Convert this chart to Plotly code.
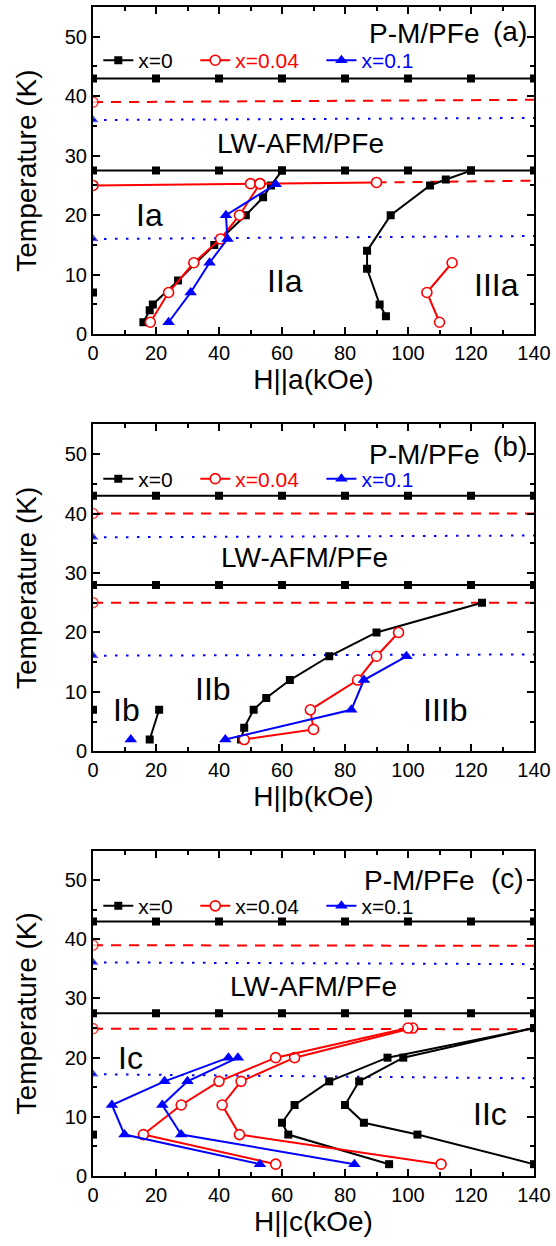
import plotly.graph_objects as go

# ---------------- data ----------------
H_grid = [0, 20, 40, 60, 80, 100, 120, 140]
H_ends = [0, 140]

# panel (a)  H || a
a_k0_top_T = [43, 43, 43, 43, 43, 43, 43, 43]
a_k004_top_T = [39.0, 39.4]
a_k01_top_T = [36.0, 36.35]
a_k0_tn_T = [27.5, 27.5, 27.5, 27.5, 27.5, 27.5, 27.5, 27.5]
a_k004_tn_H = [0, 50, 53, 90]
a_k004_tn_T = [25.0, 25.3, 25.3, 25.5]
a_k004_tnext_H = [90, 140]
a_k004_tnext_T = [25.5, 25.8]
a_k01_tn_T = [16.0, 16.5]
a_k0_b1_H = [16, 18, 19, 27, 38.5, 48.5, 54, 56.5, 60]
a_k0_b1_T = [2, 4, 5, 9, 15, 20, 23, 25, 27.5]
a_k004_b1_H = [18.2, 24, 32, 40.5, 46.5, 53]
a_k004_b1_T = [2, 7, 12, 16, 20, 25.3]
a_k01_b1_H = [24, 31, 37, 42.7, 42.2, 58]
a_k01_b1_T = [2, 7, 12, 16, 20, 25.2]
a_k0_b2_H = [93, 91, 87, 87, 94.5, 107, 112, 120]
a_k0_b2_T = [3, 5, 11, 14, 20, 25, 26, 27.5]
a_k004_b2_H = [110, 106, 114]
a_k004_b2_T = [2, 7, 12]
a_k0_pt_H = [0]
a_k0_pt_T = [7]

# panel (b)  H || b
b_k0_top_T = [43, 43, 43, 43, 43, 43, 43, 43]
b_k004_top_T = [40.0, 40.0]
b_k01_top_T = [36.0, 36.3]
b_k0_tn_T = [28, 28, 28, 28, 28, 28, 28, 28]
b_k004_tn_T = [25.0, 25.0]
b_k01_tn_T = [16.1, 16.3]
b_k0_pt_H = [0]
b_k0_pt_T = [7]
b_k0_b1_H = [18, 21]
b_k0_b1_T = [2, 7]
b_k01_pt_H = [12]
b_k01_pt_T = [2]
b_k0_b2_H = [47, 48, 51, 55, 62.5, 75, 90, 123.5]
b_k0_b2_T = [2, 4, 7, 9, 12, 16, 20, 25]
b_k004_b2_H = [48, 70, 69, 84, 90, 97]
b_k004_b2_T = [2, 3.7, 7, 12, 16, 20]
b_k01_b2_H = [42, 82, 86, 99.5]
b_k01_b2_T = [2, 7, 12, 16]

# panel (c)  H || c
c_k0_top_T = [43, 43, 43, 43, 43, 43, 43, 43]
c_k004_top_T = [39.0, 38.9]
c_k01_top_T = [36.1, 35.8]
c_k0_tn_T = [27.5, 27.5, 27.5, 27.5, 27.5, 27.5, 27.5, 27.5]
c_k004_tn_T = [24.9, 24.8]
c_k01_tn_T = [17.2, 16.5]
c_k0_pt_H = [0]
c_k0_pt_T = [7]
c_k0_out_H = [140, 103, 86, 80, 84.5, 98.5, 140]
c_k0_out_T = [2, 7, 9, 12, 16, 20, 25]
c_k0_in_H = [94, 62, 60, 64, 75, 93.5, 140]
c_k0_in_T = [2, 7, 9, 12, 16, 20, 25]
c_k004_out_H = [110.5, 46.5, 41, 47, 64, 101.5]
c_k004_out_T = [2, 7, 12, 16, 20, 25]
c_k004_in_H = [58, 16, 28, 40, 58, 100]
c_k004_in_T = [2, 7, 12, 16, 20, 25]
c_k01_out_H = [83, 28, 22, 30, 46]
c_k01_out_T = [2, 7, 12, 16, 20]
c_k01_in_H = [53, 10, 6, 22.7, 43]
c_k01_in_T = [2, 7, 12, 16, 20]

series_names = ["x=0", "x=0.04", "x=0.1"]
x_titles = ["H||a(kOe)", "H||b(kOe)", "H||c(kOe)"]
panel_tags = ["(a)", "(b)", "(c)"]

# ---------------- styles ----------------
BLACK, RED, BLUE = "#000000", "#FF0000", "#0000FF"
FONT = "Liberation Sans, Arial, sans-serif"
LW = 2
SQ = dict(symbol="square", size=8, color=BLACK)
CI = dict(symbol="circle", size=10, color="white", line=dict(color=RED, width=1.6))
TR = dict(symbol="triangle-up", size=11, color=BLUE)
PAD = "&nbsp;&nbsp;&nbsp;"

fig = go.Figure()


def add(ax, xs, ys, color, marker, dash="solid", mode="lines+markers", name=None, legend=None):
    xa = "x" if ax == 1 else f"x{ax}"
    ya = "y" if ax == 1 else f"y{ax}"
    kw = dict(x=xs, y=ys, xaxis=xa, yaxis=ya, mode=mode,
              line=dict(color=color, width=LW, dash=dash),
              marker=marker, showlegend=name is not None, hoverinfo="skip")
    if name is not None:
        kw["name"] = name
        kw["legend"] = legend
    fig.add_trace(go.Scatter(**kw))


def edge_marker(m):
    d = dict(m)
    d["size"] = [m["size"], 0]
    return d


def cname(i, color):
    return f"<span style='color:{color}'>{series_names[i]}</span>" + (PAD if i < 2 else "")


DASH = "10px,8px"
DOT = "2.5px,8.5px"

# ----- panel (a)
add(1, H_grid, a_k0_top_T, BLACK, SQ)
add(1, H_ends, a_k004_top_T, RED, edge_marker(CI), DASH)
add(1, H_ends, a_k01_top_T, BLUE, edge_marker(TR), DOT)
add(1, H_grid, a_k0_tn_T, BLACK, SQ)
add(1, H_ends, a_k01_tn_T, BLUE, edge_marker(TR), DOT)
add(1, a_k004_tnext_H, a_k004_tnext_T, RED, dict(size=0), DASH, mode="lines")
add(1, a_k0_pt_H, a_k0_pt_T, BLACK, SQ, mode="markers")
add(1, a_k0_b1_H, a_k0_b1_T, BLACK, SQ, name=cname(0, BLACK), legend="legend")
add(1, a_k0_b2_H, a_k0_b2_T, BLACK, SQ)
add(1, a_k004_tn_H, a_k004_tn_T, RED, CI)
add(1, a_k004_b1_H, a_k004_b1_T, RED, CI, name=cname(1, RED), legend="legend")
add(1, a_k004_b2_H, a_k004_b2_T, RED, CI)
add(1, a_k01_b1_H, a_k01_b1_T, BLUE, TR, name=cname(2, BLUE), legend="legend")

# ----- panel (b)
add(2, H_grid, b_k0_top_T, BLACK, SQ)
add(2, H_ends, b_k004_top_T, RED, edge_marker(CI), DASH)
add(2, H_ends, b_k01_top_T, BLUE, edge_marker(TR), DOT)
add(2, H_grid, b_k0_tn_T, BLACK, SQ)
add(2, H_ends, b_k004_tn_T, RED, edge_marker(CI), DASH)
add(2, H_ends, b_k01_tn_T, BLUE, edge_marker(TR), DOT)
add(2, b_k0_pt_H, b_k0_pt_T, BLACK, SQ, mode="markers")
add(2, b_k0_b2_H, b_k0_b2_T, BLACK, SQ, name=cname(0, BLACK), legend="legend2")
add(2, b_k0_b1_H, b_k0_b1_T, BLACK, SQ)
add(2, b_k004_b2_H, b_k004_b2_T, RED, CI, name=cname(1, RED), legend="legend2")
add(2, b_k01_b2_H, b_k01_b2_T, BLUE, TR, name=cname(2, BLUE), legend="legend2")
add(2, b_k01_pt_H, b_k01_pt_T, BLUE, TR, mode="markers")

# ----- panel (c)
add(3, H_grid, c_k0_top_T, BLACK, SQ)
add(3, H_ends, c_k004_top_T, RED, edge_marker(CI), DASH)
add(3, H_ends, c_k01_top_T, BLUE, edge_marker(TR), DOT)
add(3, H_grid, c_k0_tn_T, BLACK, SQ)
add(3, H_ends, c_k004_tn_T, RED, edge_marker(CI), DASH)
add(3, H_ends, c_k01_tn_T, BLUE, edge_marker(TR), DOT)
add(3, c_k0_pt_H, c_k0_pt_T, BLACK, SQ, mode="markers")
add(3, c_k0_out_H, c_k0_out_T, BLACK, SQ, name=cname(0, BLACK), legend="legend3")
add(3, c_k0_in_H, c_k0_in_T, BLACK, SQ)
add(3, c_k004_out_H, c_k004_out_T, RED, CI, name=cname(1, BLACK), legend="legend3")
add(3, c_k004_in_H, c_k004_in_T, RED, CI)
add(3, c_k01_out_H, c_k01_out_T, BLUE, TR, name=cname(2, BLACK), legend="legend3")
add(3, c_k01_in_H, c_k01_in_T, BLUE, TR)

# ---------------- layout ----------------
W, Hpx = 556, 1246
L, R, T, B = 93, 19, 5, 70
ph = Hpx - T - B
bottom = Hpx - B


def dom(top_px, bot_px):
    return [(bottom - bot_px) / ph, (bottom - top_px) / ph]


domains = [dom(5, 332.7), dom(423, 750.7), dom(850, 1176)]


def xax(i):
    return dict(range=[0, 140], tickmode="linear", tick0=0, dtick=20,
                ticks="inside", ticklen=7, tickwidth=1.5, tickcolor=BLACK,
                minor=dict(ticks="inside", ticklen=4, tickwidth=1.5, tickcolor=BLACK, dtick=10, tick0=0),
                showline=True, linewidth=2, linecolor=BLACK, mirror="ticks",
                showgrid=False, zeroline=False,
                tickfont=dict(size=20, color=BLACK, family=FONT),
                title=dict(text=x_titles[i], font=dict(size=28, color=BLACK, family=FONT), standoff=6),
                anchor="y" if i == 0 else f"y{i+1}", domain=[0, 1])


def yax(i):
    return dict(range=[0, 55], tickmode="linear", tick0=0, dtick=10,
                ticks="inside", ticklen=7, tickwidth=1.5, tickcolor=BLACK,
                minor=dict(ticks="inside", ticklen=4, tickwidth=1.5, tickcolor=BLACK, dtick=5, tick0=0),
                showline=True, linewidth=2, linecolor=BLACK, mirror="ticks",
                showgrid=False, zeroline=False,
                tickfont=dict(size=20, color=BLACK, family=FONT),
                title=dict(text="Temperature (K)", font=dict(size=28, color=BLACK, family=FONT), standoff=20),
                anchor="x" if i == 0 else f"x{i+1}", domain=domains[i])


def leg(i, y):
    return dict(orientation="h", x=0.012, xanchor="left", y=y, yanchor="middle",
                bgcolor="rgba(0,0,0,0)", font=dict(size=21, family=FONT, color=BLACK),
                itemwidth=30, tracegroupgap=0, traceorder="normal")


def T2paper(i, Tval):
    d0, d1 = domains[i]
    return d0 + (d1 - d0) * Tval / 55.0


fig.update_layout(
    width=W, height=Hpx, margin=dict(l=L, r=R, t=T, b=B),
    paper_bgcolor="white", plot_bgcolor="white",
    font=dict(family=FONT, color=BLACK),
    xaxis=xax(0), yaxis=yax(0),
    xaxis2=xax(1), yaxis2=yax(1),
    xaxis3=xax(2), yaxis3=yax(2),
    legend=leg(0, T2paper(0, 46.0)),
    legend2=leg(1, T2paper(1, 45.8)),
    legend3=leg(2, T2paper(2, 45.6)),
)

labels = [
    # (panel, H, T, text, size)
    (1, 105, 50.6, "P-M/PFe", 28), (1, 132.5, 50.8, panel_tags[0], 28),
    (1, 66, 32, "LW-AFM/PFe", 28),
    (1, 18, 20, "Ia", 32), (1, 61, 9, "IIa", 32), (1, 128, 8.3, "IIIa", 32),
    (2, 105, 50.0, "P-M/PFe", 28), (2, 132.5, 51.2, panel_tags[1], 28),
    (2, 67, 32.6, "LW-AFM/PFe", 28),
    (2, 10.6, 7, "Ib", 32), (2, 38, 10.5, "IIb", 32), (2, 111.6, 7, "IIIb", 32),
    (3, 103.5, 50.0, "P-M/PFe", 28), (3, 131.5, 50.3, panel_tags[2], 28),
    (3, 70, 32, "LW-AFM/PFe", 28),
    (3, 12, 20, "Ic", 32), (3, 126, 10.5, "IIc", 32),
]
for p, hx, ty, txt, sz in labels:
    fig.add_annotation(x=hx, y=ty, xref="x" if p == 1 else f"x{p}", yref="y" if p == 1 else f"y{p}",
                       text=txt, showarrow=False, xanchor="center", yanchor="middle",
                       font=dict(size=sz, color=BLACK, family=FONT))

fig.write_html(
    "out.html",
    config={"displayModeBar": False},
    post_script="document.body.style.margin='0';document.body.style.overflow='hidden';",
)
